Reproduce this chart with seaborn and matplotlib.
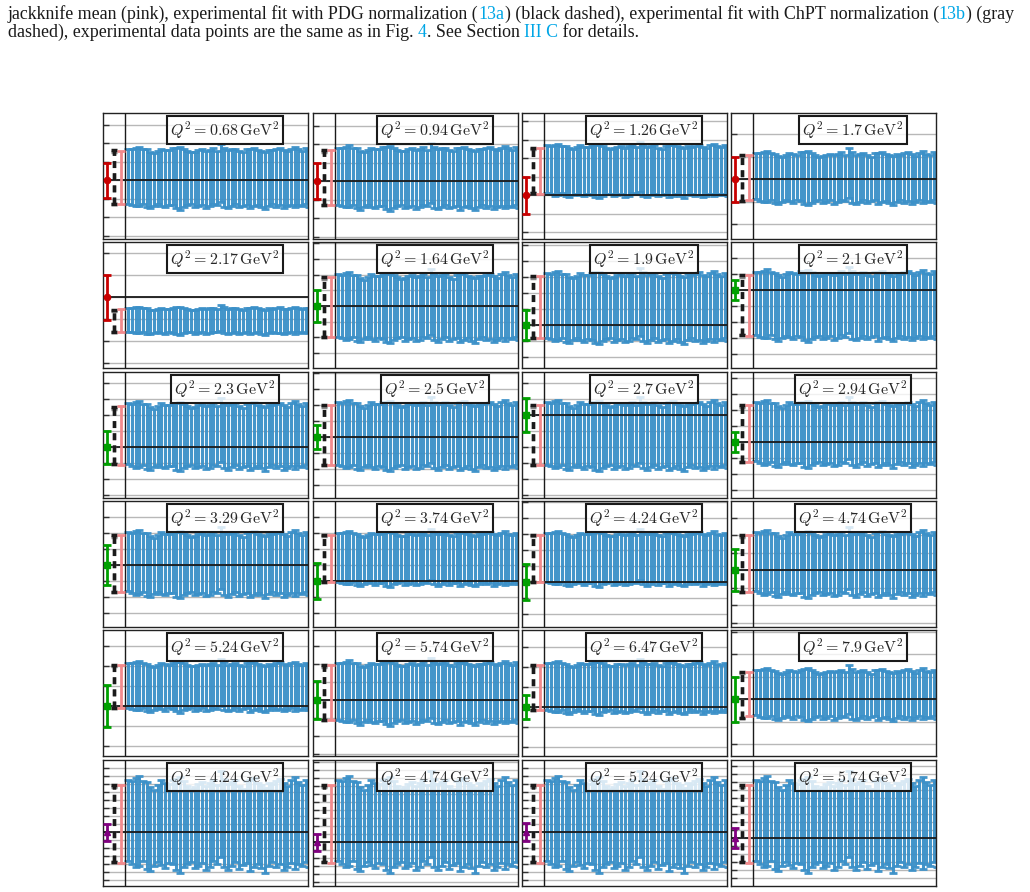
import numpy as np
import matplotlib
matplotlib.use("Agg")
import matplotlib.pyplot as plt
import seaborn as sns

# ---- data (y in arbitrary units) ----
q2_labels = ["0.68", "0.94", "1.26", "1.7", "2.17", "1.64", "1.9", "2.1",
             "2.3", "2.5", "2.7", "2.94", "3.29", "3.74", "4.24", "4.74",
             "5.24", "5.74", "6.47", "7.9", "4.24", "4.74", "5.24", "5.74"]
exp_kind = ["red"] * 5 + ["green"] * 15 + ["purple"] * 4

# experimental point
exp_val = [5.9, 5.8, 4.4, 6.0, 7.1, 6.2, 4.3, 7.8, 5.1, 6.1, 8.3, 5.6,
           6.2, 4.6, 4.5, 5.7, 5.0, 5.6, 4.9, 5.7, 5.4, 4.4, 5.4, 4.8]
exp_err = [1.75, 1.8, 1.85, 2.25, 2.25, 1.6, 1.5, 1.0, 1.65, 1.2, 1.7, 1.0,
           2.0, 1.8, 1.8, 2.1, 2.1, 1.9, 1.2, 2.25, 0.85, 0.85, 0.9, 1.0]
# experimental fit, PDG normalization (black dashed)
pdg_val = [6.2, 6.15, 6.85, 6.1, 4.7, 6.1, 6.1, 6.3, 6.25, 6.3, 6.3, 6.45,
           6.35, 6.85, 6.85, 6.35, 6.95, 6.35, 6.85, 6.1, 6.25, 6.25, 6.25, 6.25]
pdg_err = [2.7, 2.75, 2.25, 2.3, 1.1, 3.0, 3.1, 3.0, 2.85, 3.0, 3.0, 2.85,
           2.85, 2.35, 2.35, 2.85, 2.15, 2.75, 2.25, 2.3, 3.85, 3.85, 3.85, 3.85]
# experimental fit, ChPT normalization (gray dashed)
chpt_val = [6.15, 6.1, 6.8, 6.1, 4.7, 6.05, 6.05, 6.25, 6.2, 6.25, 6.25, 6.4,
            6.3, 6.8, 6.8, 6.3, 6.9, 6.3, 6.8, 6.1, 6.2, 6.2, 6.2, 6.2]
chpt_err = [2.6, 2.65, 2.2, 2.25, 1.05, 2.9, 3.0, 2.9, 2.75, 2.9, 2.9, 2.75,
            2.75, 2.3, 2.3, 2.75, 2.1, 2.65, 2.2, 2.25, 3.75, 3.75, 3.75, 3.75]
# jackknife mean (pink)
jk_val = [6.15, 6.15, 6.85, 6.15, 4.75, 6.1, 6.1, 6.3, 6.25, 6.3, 6.3, 6.45,
          6.35, 6.85, 6.85, 6.35, 6.95, 6.35, 6.85, 6.2, 6.25, 6.25, 6.25, 6.25]
jk_err = [2.65, 2.75, 2.3, 2.25, 1.15, 3.0, 3.1, 3.05, 2.95, 3.0, 3.0, 2.85,
          2.85, 2.35, 2.35, 2.85, 2.15, 2.75, 2.25, 2.2, 3.9, 3.9, 3.9, 3.9]
# spread of the jackknife samples around the mean
jk_wiggle = [0.35, 0.35, 0.3, 0.35, 0.2, 0.4, 0.4, 0.4, 0.4, 0.4, 0.4, 0.4,
             0.4, 0.3, 0.3, 0.4, 0.3, 0.35, 0.3, 0.35, 0.75, 0.75, 0.75, 0.75]
grid_step = [1.85, 1.85, 1.85, 2.25, 2.2, 1.57, 1.6, 1.6, 1.6, 1.6, 1.6, 1.6,
             1.6, 1.6, 1.6, 1.75, 2.0, 1.8, 2.0, 2.25, 0.8, 0.8, 0.8, 0.8]

# per-sample deviation of the top / bottom edge of each jackknife bar
top_dev = [0.3, 0.2, 0.6, 0.9, 0.2, 0.1, -0.6, -1.0, -0.3, 0.3, -0.1, -0.2, 0.4,
           0.5, 0.7, 0.2, -0.4, -0.8, -0.6, -0.2, 0.1, -0.4, 0.0, 0.4, -0.3, 1.6,
           0.5, -0.2, 0.1, 0.3, -0.4, -0.8, 0.2, 0.3, 0.6, 0.0, -0.3, -0.7, 0.0,
           -0.2, 0.2, 0.5, -0.1, -0.5, 0.3, 0.8, 0.1, -0.3, 0.4, 0.0, -0.2, 0.3]
bot_dev = [0.5, 0.1, -0.3, -0.2, 0.4, -0.6, -0.9, -0.2, 0.3, -0.1, -0.5, 0.2, 0.0,
           -0.8, -1.2, -0.4, 0.1, 0.3, -0.5, -0.2, 0.2, -0.7, -0.3, 0.4, 0.1, 1.0,
           -0.4, -0.8, -0.2, 0.3, -0.6, -0.1, 0.2, -0.9, -0.3, 0.1, -0.5, -1.1, -0.2,
           0.3, -0.4, 0.0, -0.8, -0.3, 0.2, -0.6, 0.1, -0.2, 0.3, -0.4, 0.0, -0.3]

colors = {"red": "#c80000", "green": "#00a000", "purple": "#800080"}
markers = {"red": "o", "green": "s", "purple": "^"}
BLUE = "#3b90c8"
PINK = "#f28a8c"
CYAN = "#00a6e6"

# ---- style ----
sns.set_theme(style="white")
plt.rcParams["mathtext.fontset"] = "cm"

fig = plt.figure(figsize=(10.3, 8.92), dpi=100)
W, H = 1030, 892
col_left = [103, 313, 522, 731]
row_top = [113, 242, 372, 501, 630, 760]
pw, ph = 205, 126

x_samples = np.arange(len(top_dev))

for k in range(24):
    r, c = divmod(k, 4)
    ax = fig.add_axes([col_left[c] / W, (H - row_top[r] - ph) / H, pw / W, ph / H])
    ax.set_xlim(-6.8, 48.6)
    ax.set_ylim(0, 12.6)

    # grid lines through the experimental value
    st = grid_step[k]
    ticks = exp_val[k] + st * np.arange(-12, 13)
    ticks = ticks[(ticks > 0.05) & (ticks < 12.55)]
    ax.set_yticks(ticks)
    ax.set_yticklabels([])
    ax.set_xticks([])
    ax.grid(axis="y", color="#b8b8b8", lw=1.0)
    ax.tick_params(axis="y", direction="in", length=4, width=1, color="#333333", left=True)
    for s in ax.spines.values():
        s.set_color("#222222")
        s.set_linewidth(1.0)

    # jackknife samples
    top = jk_val[k] + jk_err[k] * 1.05 + jk_wiggle[k] * np.array(top_dev)
    bot = jk_val[k] - jk_err[k] * 1.05 + jk_wiggle[k] * np.array(bot_dev)
    ax.errorbar(x_samples, (top + bot) / 2, yerr=(top - bot) / 2, fmt="none",
                ecolor=BLUE, elinewidth=2.2, capsize=2.6, capthick=2, alpha=0.95, zorder=2)

    ax.axvline(-0.8, color="k", lw=1.0, zorder=3)
    ax.axhline(exp_val[k], color="k", lw=1.3, zorder=4)

    # experiment
    ck = exp_kind[k]
    ax.errorbar([-5.7], [exp_val[k]], yerr=[exp_err[k]], fmt=markers[ck], color=colors[ck],
                ms=4.5, elinewidth=2, capsize=2.6, capthick=2, zorder=5)
    # ChPT fit (gray dashed) and PDG fit (black dashed)
    eb = ax.errorbar([-3.8], [chpt_val[k]], yerr=[chpt_err[k]], fmt="none", ecolor="#888888",
                     elinewidth=2.5, capsize=2, capthick=2.5, zorder=4)
    eb[2][0].set_linestyle((0, (2, 1.5)))
    eb = ax.errorbar([-3.8], [pdg_val[k]], yerr=[pdg_err[k]], fmt="none", ecolor="k",
                     elinewidth=2.5, capsize=2, capthick=2.5, zorder=5)
    eb[2][0].set_linestyle((0, (2, 1.5)))
    # jackknife mean
    ax.errorbar([-1.9], [jk_val[k]], yerr=[jk_err[k]], fmt="none", ecolor=PINK,
                elinewidth=2, capsize=2.6, capthick=2, zorder=5)

    ax.text(0.595, 0.865, r"$Q^2 = %s\,\mathrm{GeV}^2$" % q2_labels[k], transform=ax.transAxes,
            ha="center", va="center", fontsize=11.5, zorder=6,
            bbox=dict(boxstyle="square,pad=0.2", fc=(1, 1, 1, 0.8), ec="k", lw=1.5))

# ---- caption text (multi-coloured pieces) ----
renderer = fig.canvas.get_renderer()
cap_lines = [
    [("jackknife mean (pink), experimental fit with PDG normalization (", "k"), ("13a", CYAN),
     (") (black dashed), experimental fit with ChPT normalization (", "k"), ("13b", CYAN),
     (") (gray", "k")],
    [("dashed), experimental data points are the same as in Fig. ", "k"), ("4", CYAN),
     (". See Section ", "k"), ("III C", CYAN), (" for details.", "k")],
]
for li, pieces in enumerate(cap_lines):
    x = 8 / W
    y = 1 - (19 + 18 * li) / H
    for txt, col in pieces:
        t = fig.text(x, y, txt, color=col, fontsize=12.9, family="Liberation Serif",
                     va="baseline", ha="left")
        bb = t.get_window_extent(renderer)
        x += bb.width / W

fig.savefig("out.png", dpi=100, facecolor="white")
